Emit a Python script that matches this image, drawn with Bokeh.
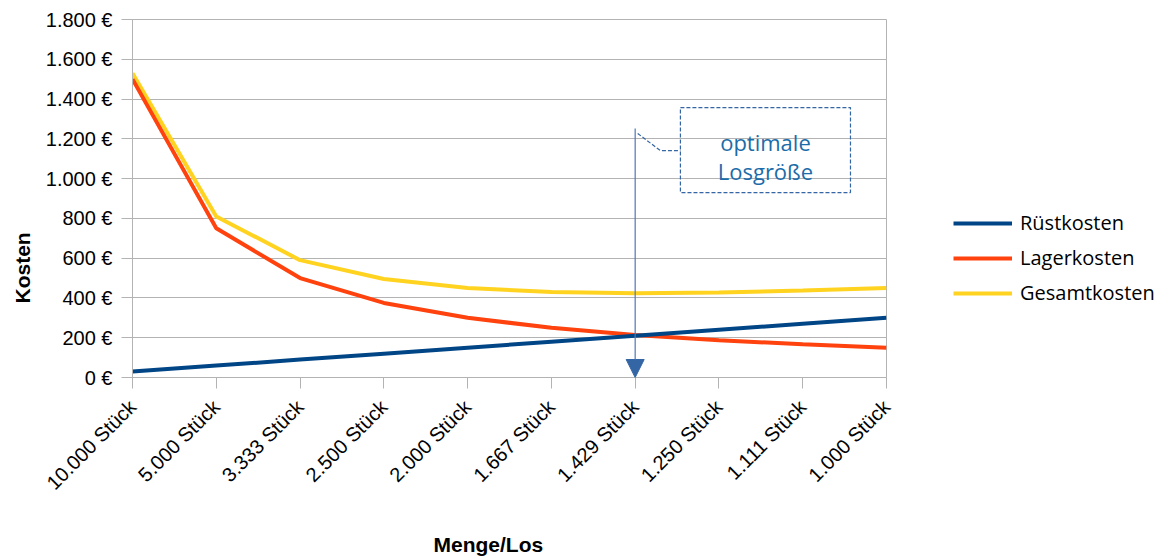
import math
import numpy as np
from bokeh.plotting import figure
from bokeh.models import (Range1d, FixedTicker, Label, Arrow, NormalHead,
                          BoxAnnotation, ColumnDataSource, Title, Legend, LegendItem)
from bokeh.embed import file_html
from bokeh.resources import INLINE

# ---------------- data ----------------
categories = ["10.000 Stück", "5.000 Stück", "3.333 Stück", "2.500 Stück",
              "2.000 Stück", "1.667 Stück", "1.429 Stück", "1.250 Stück",
              "1.111 Stück", "1.000 Stück"]
ruestkosten = [30, 60, 90, 120, 150, 180, 210, 240, 270, 300]
lagerkosten = [1500, 750, 500, 375, 300, 250, 214, 187.5, 167, 150]
gesamtkosten = [1530, 810, 590, 495, 450, 430, 424, 427.5, 437, 450]
y_ticks = [0, 200, 400, 600, 800, 1000, 1200, 1400, 1600, 1800]
y_tick_labels = ["0 €", "200 €", "400 €", "600 €", "800 €", "1.000 €",
                 "1.200 €", "1.400 €", "1.600 €", "1.800 €"]
series_names = ["Rüstkosten", "Lagerkosten", "Gesamtkosten"]
series_colors = ["#004586", "#ff420e", "#ffd320"]
annotation_lines = ["optimale", "Losgröße"]

x = list(range(len(categories)))
src = ColumnDataSource(dict(x=x, r=ruestkosten, l=lagerkosten, g=gesamtkosten))

GRID = "#b3b3b3"
TICK_FONT = "Liberation Sans"

p = figure(frame_width=754, frame_height=358, output_backend="svg",
           toolbar_location=None,
           x_range=Range1d(0, len(categories) - 1), y_range=Range1d(0, 1800),
           min_border_left=132, min_border_right=100, min_border_top=19,
           min_border_bottom=100)
p.outline_line_color = GRID
p.background_fill_color = "white"
p.border_fill_color = "white"

# axes
p.xaxis.ticker = FixedTicker(ticks=x)
p.xaxis.major_label_overrides = {i: c for i, c in zip(x, categories)}
p.xaxis.major_label_orientation = math.pi / 4
p.yaxis.ticker = FixedTicker(ticks=y_ticks)
p.yaxis.major_label_overrides = {t: s for t, s in zip(y_ticks, y_tick_labels)}
for ax in (p.xaxis, p.yaxis):
    ax.axis_line_color = GRID
    ax.major_tick_line_color = GRID
    ax.minor_tick_line_color = None
    ax.major_tick_in = 0
    ax.major_tick_out = 11
    ax.major_label_text_font = TICK_FONT
    ax.major_label_text_font_size = "20px"
    ax.major_label_text_color = "#000000"
p.yaxis.major_label_standoff = 9
p.xaxis.major_label_standoff = 15

p.xgrid.grid_line_color = None
p.ygrid.grid_line_color = GRID
p.ygrid.ticker = FixedTicker(ticks=y_ticks)

# series (yellow total beneath the others)
r_g = p.line("x", "g", source=src, line_color=series_colors[2], line_width=4)
r_l = p.line("x", "l", source=src, line_color=series_colors[1], line_width=4)
r_r = p.line("x", "r", source=src, line_color=series_colors[0], line_width=4)

leg = Legend(items=[LegendItem(label=series_names[0], renderers=[r_r]),
                    LegendItem(label=series_names[1], renderers=[r_l]),
                    LegendItem(label=series_names[2], renderers=[r_g])])
leg.location = (67, 71)
leg.padding = 0
leg.margin = 0
leg.spacing = 8
leg.glyph_width = 59
leg.glyph_height = 20
leg.label_height = 20
leg.label_standoff = 8
leg.label_text_font = "Open Sans"
leg.label_text_font_size = "20px"
leg.label_text_color = "#000000"
leg.background_fill_alpha = 0
leg.border_line_alpha = 0
p.add_layout(leg, "right")

# optimum arrow and callout
opt = int(np.argmin(gesamtkosten))
ACOL = "#3465a4"
p.add_layout(Arrow(x_start=opt, y_start=1252, x_end=opt, y_end=0,
                   line_color="#4f78b8", line_width=1.2,
                   end=NormalHead(size=18, fill_color=ACOL, line_color=ACOL)))
p.add_layout(BoxAnnotation(left=opt + 0.54, right=opt + 2.57, bottom=930, top=1357,
                           fill_alpha=0, line_color=ACOL, line_alpha=1.0,
                           line_width=1.2, line_dash="4 2"))
p.line([opt + 0.03, opt + 0.30, opt + 0.54], [1227, 1141, 1141],
       line_color=ACOL, line_width=1.2, line_dash="4 2")
TCOL = "#1b6ca8"
for txt, yb in zip(annotation_lines, [1185, 1040]):
    p.add_layout(Label(x=opt + 1.555, y=yb, text=txt, text_align="center",
                       text_baseline="alphabetic", text_font="Open Sans",
                       text_font_size="22px", text_color=TCOL))

# axis titles
p.add_layout(Title(text="Kosten", align="left", offset=74, standoff=17,
                   text_font=TICK_FONT, text_font_style="bold",
                   text_font_size="21px", text_color="#000000"), "left")
p.add_layout(Title(text="Menge/Los", align="left", offset=301, standoff=52,
                   text_font=TICK_FONT, text_font_style="bold",
                   text_font_size="21px", text_color="#000000"), "below")

open("out.html", "w").write(file_html(p, INLINE))
